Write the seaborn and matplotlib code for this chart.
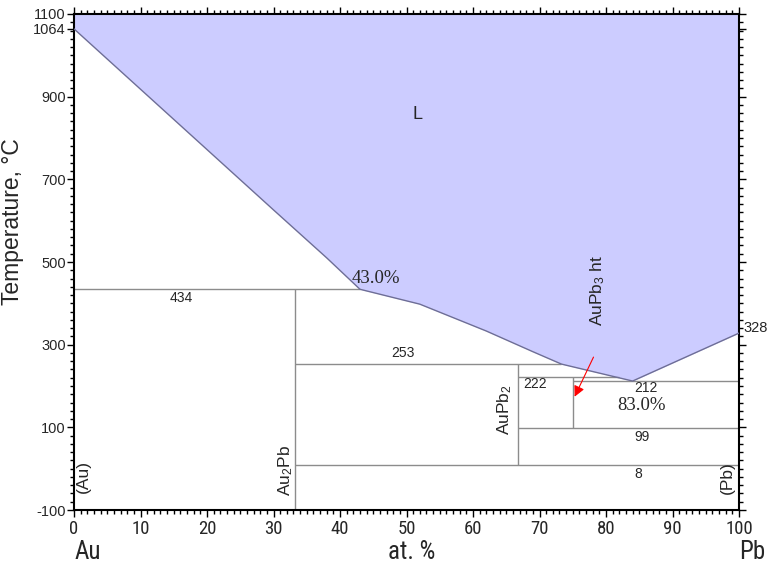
## Au-Pb phase diagram, redrawn with seaborn / matplotlib
import numpy as np
import pandas as pd
import seaborn as sns
import matplotlib.pyplot as plt
from matplotlib import font_manager
from matplotlib.ticker import MultipleLocator, FixedLocator

# liquidus (at. % Pb, temperature in C)
liquidus_x = [0, 10, 20, 30, 38, 43, 52, 62, 69, 73.3, 84, 100]
liquidus_y = [1064, 918, 772, 626, 510, 434, 398, 333, 283, 253, 212, 328]

# invariant lines: temperature, x start, x end
inv_temp = [434, 253, 222, 212, 99, 8]
inv_x0 = [0, 33.3, 66.7, 75, 66.7, 33.3]
inv_x1 = [43, 73.3, 82, 100, 100, 100]
inv_labels = ["434", "253", "222", "212", "99", "8"]
inv_label_x = [16.2, 49.5, 69.3, 86, 85.4, 84.8]
inv_label_y = [413, 280, 205, 195, 76, -13]

# compounds: composition, top and bottom temperature
comp_x = [33.3, 66.7, 75]
comp_top = [434, 253, 222]
comp_bot = [-100, 8, 99]

y_ticks = [-100, 100, 300, 500, 700, 900, 1064, 1100]
x_ticks = [0, 10, 20, 30, 40, 50, 60, 70, 80, 90, 100]

liq = pd.DataFrame({"x": liquidus_x, "T": liquidus_y})

# pick fonts that are really installed
installed = {f.name for f in font_manager.fontManager.ttflist}
def pick(*names):
    return [n for n in names if n in installed] + ['DejaVu Sans']

sans = pick('Liberation Sans', 'Arimo', 'Noto Sans')
narrow = pick('Liberation Sans Narrow', 'Roboto Condensed', 'Open Sans Condensed', 'Liberation Sans')
serif = pick('Liberation Serif', 'Tinos', 'DejaVu Serif')

sns.set_style("ticks")
plt.rcParams['font.family'] = sans
plt.rcParams['axes.unicode_minus'] = False
plt.rcParams['mathtext.fontset'] = 'custom'
plt.rcParams['mathtext.rm'] = sans[0]
plt.rcParams['mathtext.it'] = sans[0]
plt.rcParams['xtick.direction'] = 'out'
plt.rcParams['ytick.direction'] = 'out'

fig = plt.figure(figsize=(7.84, 5.75), dpi=100)
ax = fig.add_axes([74 / 784, 1 - 510 / 575, 665 / 784, 496 / 575])

# liquid region
ax.fill_between(liq["x"], liq["T"], 1100, color="#ccccff", lw=0, zorder=1)
sns.lineplot(data=liq, x="x", y="T", ax=ax, color="#6e6e96", lw=1, sort=False, zorder=3)

# invariant lines and compounds
ax.hlines(inv_temp, inv_x0, inv_x1, colors="#8c8c8c", lw=1, zorder=2)
ax.vlines(comp_x, comp_bot, comp_top, colors="#8c8c8c", lw=1, zorder=2)

for lab, lx, ly in zip(inv_labels, inv_label_x, inv_label_y):
    ax.text(lx, ly, lab, ha="center", va="center", fontsize=10)

ax.text(45.4, 461, "43.0%", family=serif, fontsize=13.5, ha="center", va="center")
ax.text(85.3, 154, "83.0%", family=serif, fontsize=13.5, ha="center", va="center")
ax.text(51.7, 858, "L", fontsize=13, ha="center", va="center")
ax.text(100.6, 340, "328", fontsize=10.5, ha="left", va="center", clip_on=False)

ax.text(1.4, -20, "(Au)", rotation=90, fontsize=12.5, ha="center", va="center")
ax.text(98.3, -22, "(Pb)", rotation=90, fontsize=12.5, ha="center", va="center")
ax.text(31.9, -5, r"Au$_{\mathrm{2}}$Pb", rotation=90, fontsize=12.5, ha="center", va="center")
ax.text(64.8, 142, r"AuPb$_{\mathrm{2}}$", rotation=90, fontsize=12.5, ha="center", va="center")
ax.text(78.8, 432, r"AuPb$_{\mathrm{3}}$ ht", rotation=90, fontsize=12.5, ha="center", va="center")
ax.annotate("", xy=(75.1, 168), xytext=(78.3, 276),
            arrowprops=dict(arrowstyle="-|>", color="red", lw=0.8, mutation_scale=16))

# axes
ax.set_xlim(0, 100)
ax.set_ylim(-100, 1100)
ax.xaxis.set_major_locator(FixedLocator(x_ticks))
ax.xaxis.set_minor_locator(MultipleLocator(1))
ax.yaxis.set_major_locator(FixedLocator(y_ticks))
ax.yaxis.set_minor_locator(MultipleLocator(20))
ax.tick_params(which="both", top=True, right=True, color="black", width=1)
ax.tick_params(which="major", length=5)
ax.tick_params(which="minor", length=3)
ax.tick_params(axis="y", labelsize=10.5, pad=1)
ax.tick_params(axis="x", labelsize=13.5, pad=2)
for t in ax.get_xticklabels():
    t.set_family(narrow)
for s in ax.spines.values():
    s.set_linewidth(1.5)
    s.set_color("black")
ax.set_xlabel("")
ax.set_ylabel("")

for txt, xx in [("Au", 2.1), ("at. %", 50.8), ("Pb", 102)]:
    ax.annotate(txt, (xx, -0.085), xycoords=("data", "axes fraction"),
                ha="center", va="center", fontsize=18, family=narrow, annotation_clip=False)

fig.text(13 / 784, 1 - 222 / 575, "Temperature, °C", rotation=90,
         ha="center", va="center", fontsize=16.5)

plt.savefig("out.png", dpi=100)
plt.close()
